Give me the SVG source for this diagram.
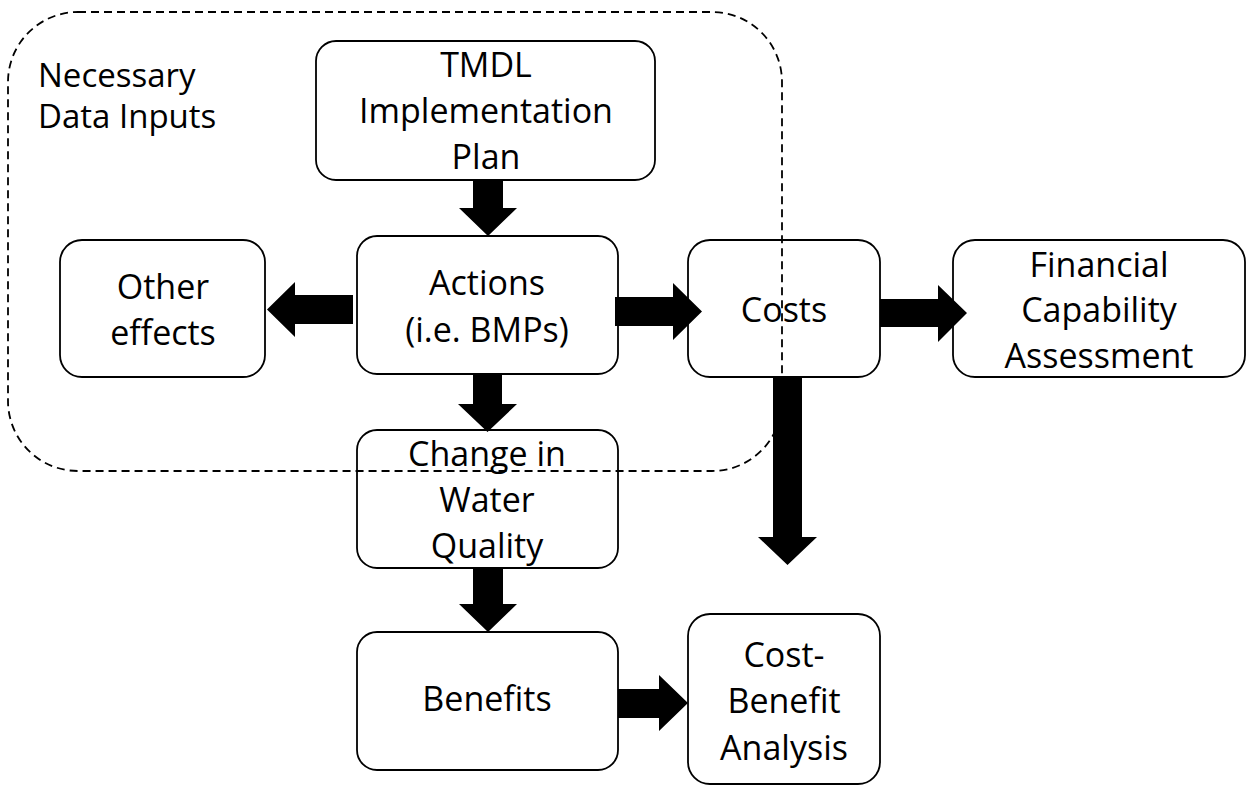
<svg xmlns="http://www.w3.org/2000/svg" width="1256" height="786" viewBox="0 0 1256 786">
<style>
.box{fill:#fff;stroke:#000;stroke-width:1.8}
.t{font-family:"Open Sans","Noto Sans","Liberation Sans",sans-serif;font-size:34px;fill:#000;text-anchor:middle}
.tl{font-family:"Open Sans","Noto Sans","Liberation Sans",sans-serif;font-size:33px;fill:#000}
.dash{fill:none;stroke:#000;stroke-width:1.8;stroke-dasharray:8 5}
.arr{fill:#000}
</style>
<rect width="1256" height="786" fill="#fff"/>
<g id="tmdl">
<rect class="box" x="316" y="41" width="339" height="139" rx="20"/>
<text class="t" x="486" y="77">TMDL</text>
<text class="t" x="486" y="123">Implementation</text>
<text class="t" x="486" y="169">Plan</text>
</g>
<g id="actions">
<rect class="box" x="357" y="236" width="261" height="138" rx="20"/>
<text class="t" x="487" y="295">Actions</text>
<text class="t" x="487" y="342">(i.e. BMPs)</text>
</g>
<g id="other-effects">
<rect class="box" x="60" y="240" width="205" height="137" rx="22"/>
<text class="t" x="163" y="299">Other</text>
<text class="t" x="163" y="345">effects</text>
</g>
<g id="costs">
<rect class="box" x="688" y="240" width="192" height="137" rx="22"/>
<text class="t" x="784" y="322">Costs</text>
</g>
<g id="financial">
<rect class="box" x="953" y="240" width="292" height="137" rx="22"/>
<text class="t" x="1099" y="277">Financial</text>
<text class="t" x="1099" y="322">Capability</text>
<text class="t" x="1099" y="368">Assessment</text>
</g>
<g id="change">
<rect class="box" x="357" y="430" width="261" height="138" rx="20"/>
<text class="t" x="487" y="466">Change in</text>
<text class="t" x="487" y="512">Water</text>
<text class="t" x="487" y="558">Quality</text>
</g>
<g id="benefits">
<rect class="box" x="357" y="632" width="261" height="138" rx="20"/>
<text class="t" x="487" y="711">Benefits</text>
</g>
<g id="cost-benefit">
<rect class="box" x="688" y="614" width="192" height="170" rx="22"/>
<text class="t" x="784" y="667">Cost-</text>
<text class="t" x="784" y="713">Benefit</text>
<text class="t" x="784" y="760">Analysis</text>
</g>
<g id="necessary-data-inputs">
<rect class="dash" x="8" y="12" width="774" height="459" rx="70"/>
<text class="tl" x="38" y="87">Necessary</text>
<text class="tl" x="38" y="128">Data Inputs</text>
</g>
<g id="connectors">
<polygon class="arr" points="473,180 503,180 503,208 517,208 488,236 459,208 473,208"/>
<polygon class="arr" points="473,374 502,374 502,404 517,404 487.5,432 458,404 473,404"/>
<polygon class="arr" points="353,295 353,324 295,324 295,337 267,309.5 295,282 295,295"/>
<polygon class="arr" points="615,297 673,297 673,283 702,311.5 673,340 673,326 615,326"/>
<polygon class="arr" points="880,299 938,299 938,285 967,313 938,342 938,327 880,327"/>
<polygon class="arr" points="773,377 802,377 802,537 817,537 787.5,565 758,537 773,537"/>
<polygon class="arr" points="473,568 503,568 503,604 517,604 488,632 459,604 473,604"/>
<polygon class="arr" points="618,689 659,689 659,675 688,703 659,731 659,718 618,718"/>
</g>
</svg>
